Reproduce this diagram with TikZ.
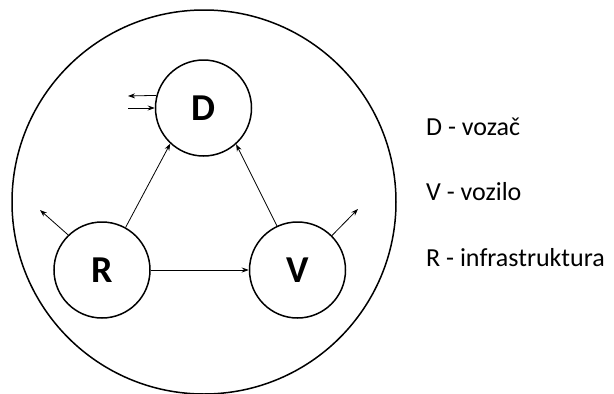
\documentclass[tikz,border=0pt]{standalone}
\usepackage{fontspec}
\setmainfont{Carlito}
\usetikzlibrary{arrows.meta}
\begin{document}
\begin{tikzpicture}[x=1pt,y=-1pt,
  bigc/.style={circle,draw,line width=1.5pt,minimum size=96pt,inner sep=0pt,font=\fontsize{38}{42}\selectfont\bfseries},
  conn/.style={line width=0.8pt,-{Stealth[length=7pt,width=5pt]}},
  lbl/.style={anchor=base west,font=\fontsize{26}{30}\selectfont,inner sep=0pt}]
\useasboundingbox (0,0) rectangle (614,394);
\node[circle,draw,line width=1.5pt,minimum size=384pt,inner sep=0pt] (outer) at (204,202) {};
\node[bigc] (D) at (203.5,108) {D};
\node[bigc] (R) at (102,270) {R};
\node[bigc] (V) at (297.5,270) {V};
\coordinate (Rout) at (40,210);
\coordinate (Vout) at (358,209);
\coordinate (Dl1) at (128,96);
\coordinate (Dl2) at (128,108);
\draw[conn] (R.61) -- (D.227);
\draw[conn] (V.115) -- (D.312);
\draw[conn] (R.east) -- (V.west);
\draw[conn] (R.134) -- (Rout);
\draw[conn] (V.45) -- (Vout);
\draw[conn] (D.165.5) -- (Dl1);
\draw[conn] (Dl2) -- (D.west);
\node[lbl] (tD) at (426,135.5) {D - vozač};
\node[lbl] (tV) at (426,200.5) {V - vozilo};
\node[lbl] (tR) at (426,266.5) {R - infrastruktura};
\end{tikzpicture}
\end{document}
